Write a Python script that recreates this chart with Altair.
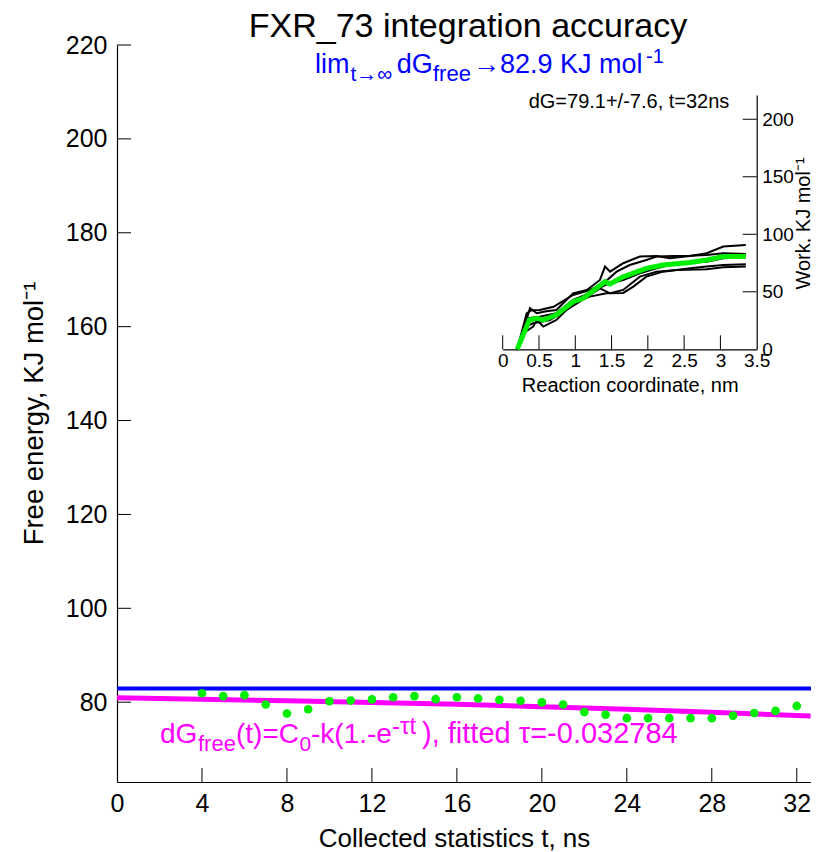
import altair as alt
import pandas as pd

FONT = "Liberation Sans"

# ---------------- main panel data ----------------
t_points = list(range(4, 33))
dg_points = [81.9, 81.3, 81.5, 79.5, 77.6, 78.5, 80.2, 80.35, 80.6, 81.05,
             81.3, 80.65, 81.05, 80.8, 80.5, 80.3, 79.95, 79.5, 77.9, 77.35,
             76.6, 76.6, 76.6, 76.6, 76.6, 77.15, 77.7, 78.15, 79.2]
limit_value = [82.9]
fit_t = [0, 4, 8, 12, 16, 20, 24, 28, 32.65]
fit_v = [80.93, 80.65, 80.3, 79.95, 79.55, 79.05, 78.5, 77.85, 77.05]
x_ticks = [0, 4, 8, 12, 16, 20, 24, 28, 32]
y_ticks = [80, 100, 120, 140, 160, 180, 200, 220]

# ---------------- inset data ----------------
run_a_x = [0.2, 0.3, 0.376, 0.47, 0.6, 0.74, 0.97, 1.16, 1.34, 1.41, 1.48, 1.66, 1.89, 2.12, 2.3, 2.58, 2.81, 3.04, 3.35]
run_a_y = [0, 20, 35.7, 31.3, 33, 34.2, 48.7, 51.6, 60.3, 71.9, 67.5, 74.8, 80.6, 81.2, 79.1, 81.2, 83.5, 89.3, 90.7]
run_b_x = [0.2, 0.33, 0.4, 0.51, 0.7, 0.97, 1.2, 1.39, 1.57, 1.75, 1.98, 2.12, 2.35, 2.58, 2.81, 3.04, 3.35]
run_b_y = [0, 31.3, 34, 34.2, 37, 47.2, 51.6, 57.4, 67.5, 73.3, 77.7, 80.6, 81.2, 81.4, 82, 83.5, 82.9]
run_c_x = [0.2, 0.28, 0.42, 0.47, 0.56, 0.74, 0.97, 1.2, 1.43, 1.66, 1.8, 1.98, 2.21, 2.58, 2.81, 3.04, 3.35]
run_c_y = [0, 13.9, 19.7, 25.5, 19.7, 25.5, 40, 45.8, 48.7, 49, 54.5, 63.2, 67.5, 70.4, 71.9, 73.3, 73.9]
run_d_x = [0.2, 0.31, 0.42, 0.65, 0.88, 1.06, 1.34, 1.48, 1.66, 1.89, 2.12, 2.4, 2.81, 3.04, 3.35]
run_d_y = [0, 19.7, 22.6, 25.5, 34.2, 41.4, 53, 48.7, 51.6, 63.2, 67.5, 69, 69.6, 71.3, 71.9]
run_e_x = [0.2, 0.35, 0.51, 0.74, 0.97, 1.2, 1.41, 1.66, 1.89, 2.12, 2.4, 2.81, 3.04, 3.35]
run_e_y = [0, 27, 28.4, 31.3, 42.9, 48.7, 55.9, 60.3, 66.1, 70.4, 74.8, 76.2, 79.1, 80.6]
mean_x = [0.2, 0.367, 0.47, 0.56, 0.74, 0.97, 1.11, 1.29, 1.41, 1.48, 1.66, 1.98, 2.21, 2.58, 2.81, 3.04, 3.35]
mean_y = [0, 25.5, 27, 25.5, 30, 41.4, 44.3, 53, 58.8, 56.8, 63, 70.4, 73.3, 75.4, 77.7, 80.6, 80.6]
inset_x_ticks = [0, 0.5, 1, 1.5, 2, 2.5, 3, 3.5]
inset_y_ticks = [0, 50, 100, 150, 200]

# ---------------- geometry ----------------
W, H = 694, 737
IX0, IX1 = 385.7, 639.7      # inset x range (plot px)
IY0, IY1 = 304.3, 50.1       # inset y range (plot px)
TICK = 14

xs = alt.Scale(domain=[0, 32.67], nice=False, zero=False)
ys = alt.Scale(domain=[63, 220], nice=False, zero=False)

x_axis = alt.Axis(values=x_ticks, format="d", ticks=False, tickSize=0, grid=False,
                  domainColor="black", domainWidth=1.2,
                  labelFont=FONT, labelFontSize=25, labelColor="black", labelPadding=9,
                  labelFlush=False, labelOverlap=False,
                  title="Collected statistics t, ns", titleFont=FONT, titleFontSize=26,
                  titleFontWeight="normal", titleColor="black",
                  titleX=337, titleY=64, titleBaseline="alphabetic", titleAlign="center")
y_axis = alt.Axis(values=y_ticks, format="d", ticks=False, tickSize=0, grid=False,
                  domainColor="black", domainWidth=1.2,
                  labelFont=FONT, labelFontSize=25, labelColor="black", labelPadding=10,
                  labelFlush=False, labelOverlap=False,
                  title="Free energy, KJ mol⁻¹", titleFont=FONT, titleFontSize=27.5,
                  titleFontWeight="normal", titleColor="black", titleAngle=270,
                  titleX=-75, titleY=368, titleBaseline="alphabetic", titleAlign="center")

X = lambda: alt.X("t:Q", scale=xs, axis=x_axis)
Y = lambda: alt.Y("v:Q", scale=ys, axis=y_axis)

points_df = pd.DataFrame({"t": t_points, "v": dg_points})
fit_df = pd.DataFrame({"t": fit_t, "v": fit_v})
lim_df = pd.DataFrame({"v": limit_value})
xt_df = pd.DataFrame({"t": x_ticks[1:]})
yt_df = pd.DataFrame({"v": y_ticks})

blue_rule = alt.Chart(lim_df).mark_rule(color="#0000ff", strokeWidth=4).encode(y=Y())
fit_line = alt.Chart(fit_df).mark_line(color="#ff00ff", strokeWidth=5).encode(x=X(), y=Y())
dots = alt.Chart(points_df).mark_circle(color="#00ee00", opacity=1, size=75).encode(x=X(), y=Y())
ytick_rules = alt.Chart(yt_df).mark_rule(color="black", strokeWidth=1).encode(
    y=Y(), x=alt.value(0), x2=alt.value(TICK))
xtick_rules = alt.Chart(xt_df).mark_rule(color="black", strokeWidth=1).encode(
    x=X(), y=alt.value(H), y2=alt.value(H - TICK))


def txt(s, x, y, size, color="black", align="left"):
    return alt.Chart(pd.DataFrame({"s": [s]})).mark_text(
        font=FONT, fontSize=size, color=color, align=align, baseline="alphabetic"
    ).encode(text="s:N", x=alt.value(x), y=alt.value(y))


BLUE = "#0000ff"
MAG = "#ff00ff"
texts = [
    txt("FXR_73 integration accuracy", 351, -8, 34, "black", "center"),
    # blue limit annotation
    txt("lim", 198, 28.3, 27, BLUE),
    txt("t→∞", 233.5, 36, 21, BLUE),
    txt("dG", 279.7, 28.3, 27, BLUE),
    txt("free", 316, 36, 22, BLUE),
    txt("→82.9 KJ mol", 356, 28.3, 27, BLUE),
    txt("-1", 529, 18, 20, BLUE),
    # magenta fit formula
    txt("dG", 43, 697.6, 28, MAG),
    txt("free", 81, 706, 22, MAG),
    txt("(t)=C", 119, 697.6, 28, MAG),
    txt("0", 182.5, 706, 21, MAG),
    txt("-k(1.-e", 194, 697.6, 28, MAG),
    txt("-τt", 275, 689, 24, MAG),
    txt("), fitted τ=-0.032784", 305, 697.6, 29, MAG),
    # inset header
    txt("dG=79.1+/-7.6, t=32ns", 512, 63.3, 20, "black", "center"),
]

main_layer = alt.layer(blue_rule, fit_line, dots, ytick_rules, xtick_rules, *texts)

# ---------------- inset ----------------
ixs = alt.Scale(domain=[0, 3.5], range=[IX0, IX1], nice=False, zero=False)
iys = alt.Scale(domain=[0, 221], range=[IY0, IY1], nice=False, zero=False)
ix_axis = alt.Axis(orient="bottom", offset=-(H - IY0), values=inset_x_ticks, format="~g",
                   ticks=False, tickSize=0, grid=False, domainColor="black", domainWidth=1.2,
                   labelFont=FONT, labelFontSize=19, labelColor="black", labelPadding=2,
                   labelFlush=False, labelOverlap=False,
                   title="Reaction coordinate, nm", titleFont=FONT, titleFontSize=20,
                   titleFontWeight="normal", titleColor="black",
                   titleY=42, titleBaseline="alphabetic")
iy_axis = alt.Axis(orient="right", offset=-(W - IX1), values=inset_y_ticks, format="d",
                   ticks=False, tickSize=0, grid=False, domainColor="black", domainWidth=1.2,
                   labelFont=FONT, labelFontSize=19, labelColor="black", labelPadding=5,
                   labelFlush=False, labelOverlap=False,
                   title="Work, KJ mol⁻¹", titleFont=FONT, titleFontSize=20,
                   titleFontWeight="normal", titleColor="black", titleAngle=270,
                   titleX=53, titleY=178, titleBaseline="alphabetic", titleAlign="center")

IX = lambda: alt.X("x:Q", scale=ixs, axis=ix_axis)
IY = lambda: alt.Y("w:Q", scale=iys, axis=iy_axis)

runs = []
for name, rx, ry in [("a", run_a_x, run_a_y), ("b", run_b_x, run_b_y), ("c", run_c_x, run_c_y),
                     ("d", run_d_x, run_d_y), ("e", run_e_x, run_e_y)]:
    for i, (a, b) in enumerate(zip(rx, ry)):
        runs.append({"run": name, "i": i, "x": a, "w": b})
runs_df = pd.DataFrame(runs)
mean_df = pd.DataFrame({"x": mean_x, "w": mean_y, "i": list(range(len(mean_x)))})

black_lines = alt.Chart(runs_df).mark_line(color="black", strokeWidth=2).encode(
    x=IX(), y=IY(), detail="run:N", order="i:Q")
green_line = alt.Chart(mean_df).mark_line(color="#00ee00", strokeWidth=5).encode(
    x=IX(), y=IY(), order="i:Q")
ixt = alt.Chart(pd.DataFrame({"x": inset_x_ticks[:-1]})).mark_rule(color="black", strokeWidth=1).encode(
    x=IX(), y=alt.value(IY0), y2=alt.value(IY0 - TICK))
iyt = alt.Chart(pd.DataFrame({"w": inset_y_ticks[1:]})).mark_rule(color="black", strokeWidth=1).encode(
    y=IY(), x=alt.value(IX1), x2=alt.value(IX1 - TICK))

inset_layer = alt.layer(black_lines, green_line, ixt, iyt)

chart = alt.layer(main_layer, inset_layer).resolve_scale(
    x="independent", y="independent"
).properties(
    width=W, height=H,
    autosize=alt.AutoSizeParams(type="none"),
    padding={"left": 109, "top": 37, "right": 0, "bottom": 70},
    background="white",
).configure_view(stroke=None)

chart.save("out.html", embed_options={"renderer": "svg", "actions": False})
